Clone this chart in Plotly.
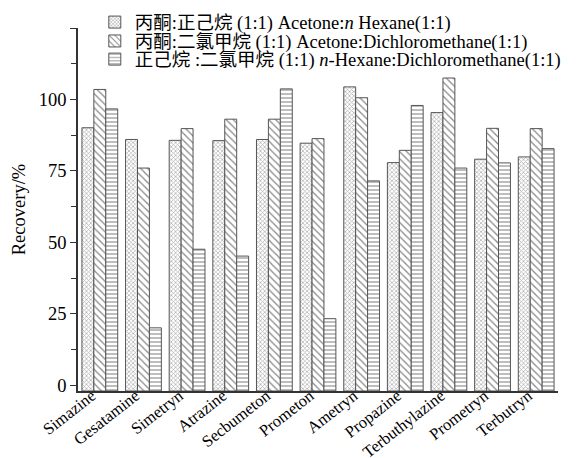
import plotly.graph_objects as go

categories = ["Simazine", "Gesatamine", "Simetryn", "Atrazine", "Secbumeton", "Prometon",
              "Ametryn", "Propazine", "Terbuthylazine", "Prometryn", "Terbutryn"]
acetone_hexane = [90.1, 86.0, 85.7, 85.6, 86.0, 84.7, 104.4, 77.9, 95.4, 79.1, 79.9]
acetone_dcm = [103.5, 76.0, 89.8, 93.1, 93.1, 86.3, 100.6, 82.2, 107.5, 89.9, 89.8]
hexane_dcm = [96.7, 20.1, 47.6, 45.2, 103.7, 23.3, 71.5, 97.9, 76.0, 77.8, 82.8]

series_names = [
    "丙酮:正己烷 (1:1) Acetone:<i>n</i> Hexane(1:1)",
    "丙酮:二氯甲烷 (1:1) Acetone:Dichloromethane(1:1)",
    "正己烷 :二氯甲烷 (1:1) <i>n</i>-Hexane:Dichloromethane(1:1)",
]
y_ticks = [0, 25, 50, 75, 100, 125]
y_tick_labels = ["0", "25", "50", "75", "100", ""]
Y_MIN, Y_MAX = -2, 125

FONT = "Liberation Serif, Times New Roman, Noto Sans CJK SC, serif"

styles = [
    dict(shape="x", fgcolor="#666666", size=3, solidity=0.45),
    dict(shape="\\", fgcolor="#111111", size=5, solidity=0.25),
    dict(shape="-", fgcolor="#222222", size=4, solidity=0.3),
]
legend_ids = ["legend", "legend2", "legend3"]
legend_rows_y = [1.015, 0.963, 0.913]

fig = go.Figure()
for name, vals, pat, lid in zip(series_names, [acetone_hexane, acetone_dcm, hexane_dcm],
                                styles, legend_ids):
    fig.add_trace(go.Bar(
        x=categories,
        y=[v - Y_MIN for v in vals],
        base=Y_MIN,
        name=name,
        legend=lid,
        marker=dict(color="white", pattern=dict(bgcolor="white", **pat),
                    line=dict(color="#555555", width=1)),
    ))

legend_style = dict(x=0.035, xanchor="left", yanchor="middle",
                    bgcolor="rgba(0,0,0,0)", font=dict(size=18.5, family=FONT),
                    itemwidth=30)

fig.update_layout(
    width=577, height=458,
    margin=dict(l=70, r=27, t=20, b=75, autoexpand=False),
    paper_bgcolor="white", plot_bgcolor="white",
    barmode="group", bargap=0.18, bargroupgap=0.0,
    font=dict(family=FONT, size=17, color="black"),
    showlegend=True,
    legend=dict(y=legend_rows_y[0], **legend_style),
    legend2=dict(y=legend_rows_y[1], **legend_style),
    legend3=dict(y=legend_rows_y[2], **legend_style),
)
fig.update_xaxes(
    showline=True, linecolor="#333333", linewidth=1.5,
    tickangle=-38, ticks="", tickfont=dict(size=16.5, family=FONT),
    ticklabelstandoff=-13, ticklabelshift=-8,
    range=[-0.5, 10.5], showgrid=False, zeroline=False,
)
fig.update_yaxes(
    range=[Y_MIN, Y_MAX], showline=True, linecolor="#333333", linewidth=1.5,
    tickmode="array", tickvals=y_ticks, ticktext=y_tick_labels,
    ticks="outside", ticklen=6, tickwidth=1.2, tickcolor="#333333",
    minor=dict(tickmode="array", tickvals=[12.5, 37.5, 62.5, 87.5, 112.5],
               ticks="outside", ticklen=5, tickcolor="#333333", tickwidth=1.2),
    showgrid=False, zeroline=False,
    tickfont=dict(size=18.5, family=FONT),
    title=dict(text="Recovery/%", font=dict(size=18.5, family=FONT), standoff=8),
)
fig.write_html("out.html")
